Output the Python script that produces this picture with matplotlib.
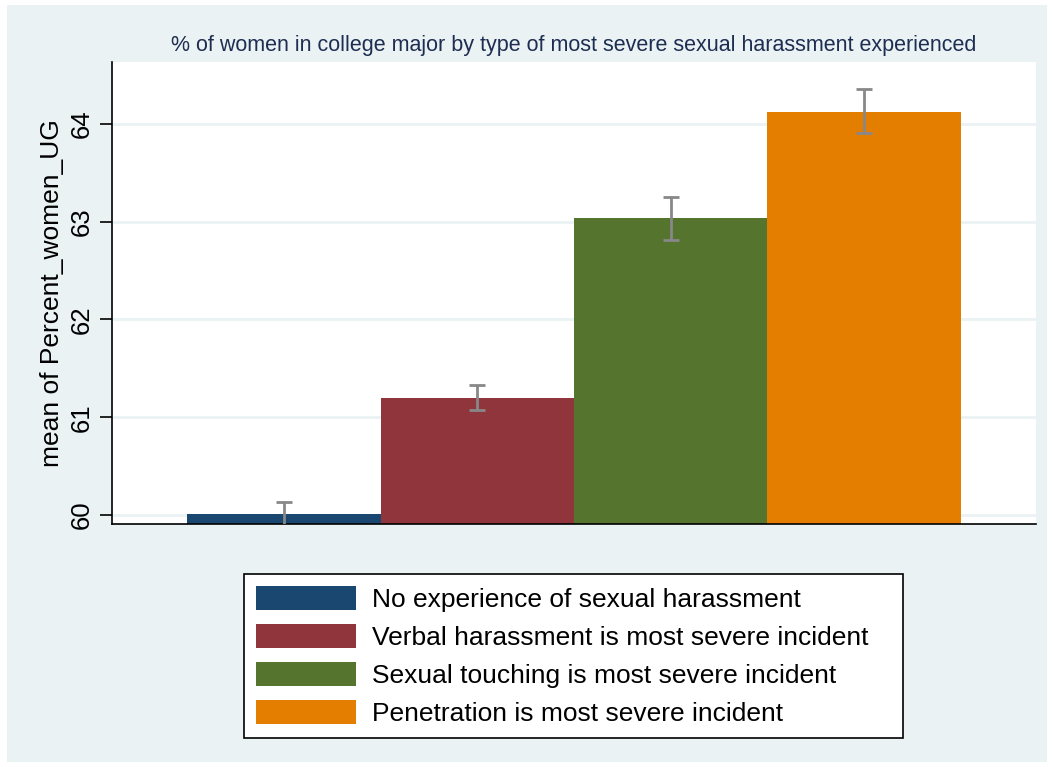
import matplotlib
matplotlib.use("Agg")
import matplotlib.pyplot as plt
from matplotlib.patches import Rectangle
from matplotlib import font_manager as fm

names = {f.name for f in fm.fontManager.ttflist}
fam = "Liberation Sans" if "Liberation Sans" in names else "DejaVu Sans"
plt.rcParams['font.family'] = [fam, 'DejaVu Sans']

categories = ["No experience of sexual harassment",
              "Verbal harassment is most severe incident",
              "Sexual touching is most severe incident",
              "Penetration is most severe incident"]
means = [60.01, 61.20, 63.04, 64.12]
ci_low = [59.89, 61.07, 62.81, 63.91]
ci_high = [60.13, 61.33, 63.25, 64.36]
colors = ["#1A476F", "#90353B", "#55752F", "#E37E00"]
yticks = [60, 61, 62, 63, 64]
base = 59.9

W, H = 1052, 767
fig = plt.figure(figsize=(W/100, H/100), dpi=100)
fig.patch.set_facecolor("white")
bg = "#EAF2F3"
fig.patches.append(Rectangle((7/W, 5/H), (1047-7)/W, (762-5)/H,
                             transform=fig.transFigure, facecolor=bg,
                             edgecolor="none", zorder=-10))

ax = fig.add_axes([112/W, 1-524/H, 924/W, 462/H])
ax.set_facecolor("white")
x = list(range(len(means)))
bars = []
for i in x:
    b = ax.bar(i, means[i]-base, bottom=base, width=1.0, color=colors[i],
               label=categories[i], zorder=2)
    bars.append(b)
    ax.errorbar(i, means[i], yerr=[[means[i]-ci_low[i]], [ci_high[i]-means[i]]],
                fmt="none", ecolor="#888888", elinewidth=2, capsize=6,
                capthick=2, zorder=3)

ax.set_xlim(-0.888, 3.888)
ax.set_ylim(59.908, 64.634)
ax.set_yticks(yticks)
ax.set_yticklabels([str(t) for t in yticks], rotation=90, va="center",
                   fontsize=18.5)
ax.tick_params(axis="y", length=8.5, width=1.2, pad=5)
ax.set_xticks([])
ax.yaxis.grid(True, color=bg, linewidth=2, zorder=0)
ax.set_axisbelow(True)
for s in ["top", "right"]:
    ax.spines[s].set_visible(False)
ax.spines["left"].set_linewidth(1.2)
ax.spines["bottom"].set_linewidth(1.2)
ax.set_ylabel("mean of Percent_women_UG", fontsize=19, labelpad=4)

fig.text(574/W, 1-46/H,
         "% of women in college major by type of most severe sexual harassment experienced",
         ha="center", va="center", fontsize=15.5, color="#1E2D52")

fs = 19
px = fs * 100 / 72
leg = ax.legend(handles=[b[0] for b in bars], labels=categories,
                loc="upper left", bbox_to_anchor=(244/W, 1-735/H, (903-244)/W, (735-574)/H),
                bbox_transform=fig.transFigure, fontsize=fs, mode="expand",
                frameon=True, fancybox=False, edgecolor="black",
                framealpha=1, handlelength=100/px, handleheight=27/px,
                labelspacing=0.455, handletextpad=16/px, borderpad=0.45,
                borderaxespad=0)
leg.get_frame().set_linewidth(1.2)

fig.savefig("out.png", dpi=100, facecolor=fig.get_facecolor())
